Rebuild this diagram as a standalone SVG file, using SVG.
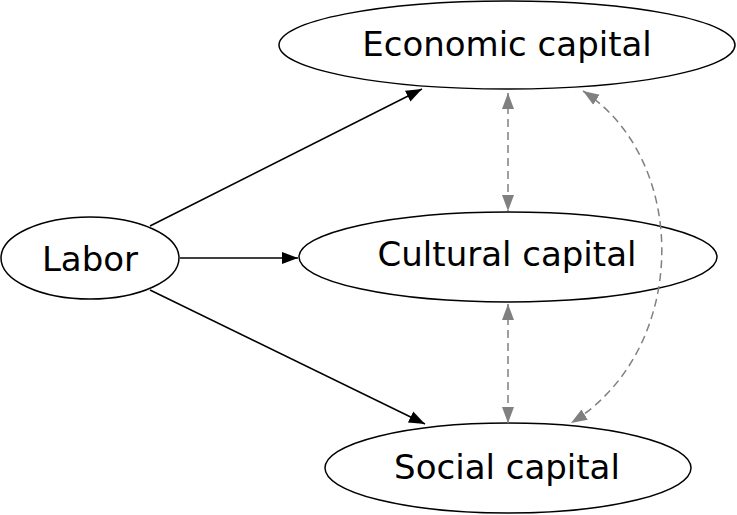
<svg xmlns="http://www.w3.org/2000/svg" width="737" height="515" viewBox="0 0 737 515">
<style>
.node ellipse{fill:#fff;stroke:#000;stroke-width:1.5}
.node text{font-family:"DejaVu Sans","Liberation Sans",sans-serif;font-size:34px;fill:#000;text-anchor:middle}
.solid{fill:none;stroke:#000;stroke-width:1.5}
.dash{fill:none;stroke:#808080;stroke-width:1.5;stroke-dasharray:8 5}
</style>
<defs>
<marker id="ab" markerUnits="userSpaceOnUse" markerWidth="17" markerHeight="14" viewBox="0 0 17 14" refX="16" refY="7" orient="auto"><path d="M0,1 L16,7 L0,13 Z" fill="#000"/></marker>
<marker id="ag" markerUnits="userSpaceOnUse" markerWidth="17" markerHeight="14" viewBox="0 0 17 14" refX="16" refY="7" orient="auto-start-reverse"><path d="M0,1 L16,7 L0,13 Z" fill="#808080"/></marker>
</defs>
<g id="economic" class="node"><ellipse cx="507" cy="45" rx="228" ry="44"/><text x="507" y="56">Economic capital</text></g>
<g id="labor" class="node"><ellipse cx="90" cy="258" rx="89" ry="41"/><text x="90" y="271">Labor</text></g>
<g id="cultural" class="node"><ellipse cx="508" cy="257" rx="209" ry="45"/><text x="507" y="266">Cultural capital</text></g>
<g id="social" class="node"><ellipse cx="508" cy="468" rx="183" ry="45"/><text x="507" y="479">Social capital</text></g>
<g id="connectors">
<path class="solid" d="M150,226 L422,89" marker-end="url(#ab)"/>
<path class="solid" d="M180,258 L298,258" marker-end="url(#ab)"/>
<path class="solid" d="M150,290 L425,424" marker-end="url(#ab)"/>
<path class="dash" d="M508,93 L508,211" marker-start="url(#ag)" marker-end="url(#ag)"/>
<path class="dash" d="M508,304 L508,423" marker-start="url(#ag)" marker-end="url(#ag)"/>
<path class="dash" d="M583,91 C690,160 690,350 571,423" marker-start="url(#ag)" marker-end="url(#ag)"/>
</g>
</svg>
